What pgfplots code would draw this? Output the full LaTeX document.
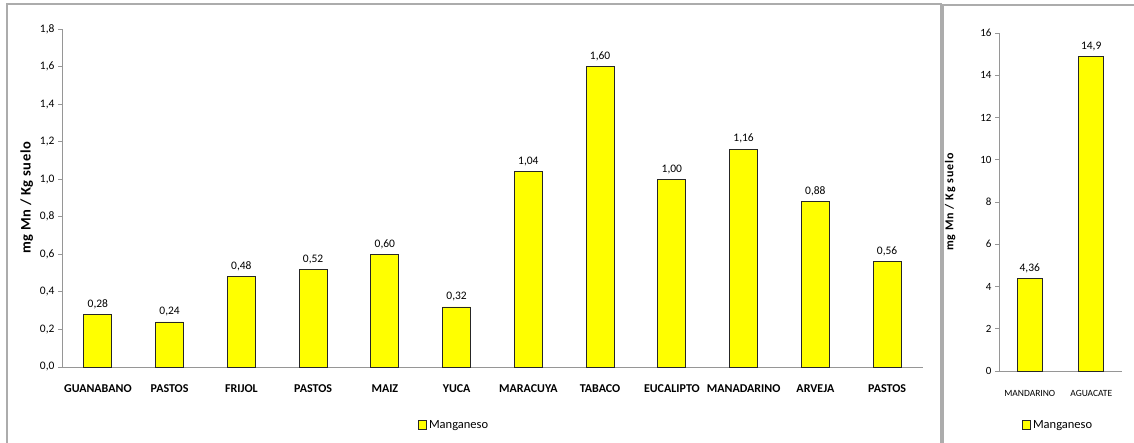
\documentclass[border=0pt]{standalone}
\usepackage{fontspec}
\setmainfont{Carlito}
\usepackage{pgfplots}
\pgfplotsset{compat=1.18}
\usepackage{pgfplotstable}
\definecolor{barY}{RGB}{255,255,0}
\definecolor{frameG}{RGB}{172,172,172}
\definecolor{axG}{RGB}{150,150,150}
\pgfplotstableread{
x v lab
0 0.28 0,28
1 0.24 0,24
2 0.48 0,48
3 0.52 0,52
4 0.60 0,60
5 0.32 0,32
6 1.04 1,04
7 1.60 1,60
8 1.00 1,00
9 1.16 1,16
10 0.88 0,88
11 0.56 0,56
}\lefttab
\pgfplotstableread{
x v lab
0 4.36 4,36
1 14.9 14,9
}\righttab
\begin{document}
\begin{tikzpicture}
\pgfplotsset{
  mybars/.style={
    scale only axis,
    axis lines*=left,
    axis line style={axG, line width=0.8pt},
    ybar, 
    ymin=0,
    tick style={axG, line width=0.8pt},
    major tick length=4pt,
    tick align=outside,
    xtick style={draw=none},
    extra x tick style={tick style={axG, line width=0.8pt}, major tick length=5pt},
    /pgf/number format/assume math mode=true,
    /pgf/number format/use comma,
    nodes near coords,
    point meta=explicit symbolic,
    every node near coord/.append style={font=\fontsize{11.5}{12}\selectfont, text=black, yshift=2pt},
    legend style={draw=none, fill=none, font=\fontsize{12.5}{13}\selectfont, legend cell align=left, inner sep=0pt},
    legend image code/.code={\draw[#1, draw=black!85, line width=0.8pt, fill=barY] (0pt,-4.5pt) rectangle (8pt,4.5pt);},
    ylabel={\bfseries mg Mn / Kg suelo},
    clip=false,
  }
}
\begin{axis}[mybars,
  at={(62pt,76pt)}, anchor=south west,
  width=861pt, height=338pt,
  xmin=-0.5, xmax=11.5,
  ymax=1.8,
  ytick={0,0.2,...,1.8},
  yticklabel style={font=\fontsize{11.5}{12}\selectfont, /pgf/number format/.cd, fixed, fixed zerofill, precision=1},
  xtick={0,...,11},
  xticklabels={GUANABANO,PASTOS,FRIJOL,PASTOS,MAIZ,YUCA,MARACUYA,TABACO,EUCALIPTO,MANADARINO,ARVEJA,PASTOS},
  xticklabel style={font=\bfseries\fontsize{12}{13}\selectfont, yshift=-10pt},
  extra x ticks={-0.5,0.5,...,11.5},
  extra x tick labels={},
  bar width=28pt,
  ylabel style={font=\addfontfeature{LetterSpace=4}\fontsize{14.5}{15}\selectfont, anchor=center, at={(axis description cs:-0.041,0.5)}},
  legend style={at={(axis description cs:0.4135,-0.1716)}, anchor=west},
]
\addplot[draw=black!85, line width=0.8pt, fill=barY] table[x=x, y=v, meta=lab] {\lefttab};
\addlegendentry{Manganeso}
\end{axis}
\begin{axis}[mybars,
  at={(999pt,72pt)}, anchor=south west,
  width=123pt, height=338pt,
  xmin=-0.5, xmax=1.5,
  ymax=16,
  ytick={0,2,...,16},
  yticklabel style={font=\fontsize{11}{12}\selectfont},
  xtick={0,1},
  xticklabels={MANDARINO,AGUACATE},
  xticklabel style={font=\fontsize{9.5}{11}\selectfont, yshift=-12pt},
  extra x ticks={-0.5,0.5,1.5},
  extra x tick labels={},
  bar width=25pt,
  ylabel style={font=\addfontfeature{LetterSpace=8}\fontsize{12}{13}\selectfont, anchor=center, at={(axis description cs:-0.398,0.5)}},
  legend style={at={(axis description cs:0.187,-0.16)}, anchor=west},
]
\addplot[draw=black!85, line width=0.8pt, fill=barY] table[x=x, y=v, meta=lab] {\righttab};
\addlegendentry{Manganeso}
\end{axis}
\draw[frameG, line width=1.4pt] (7pt,0pt) -- (7pt,439pt) -- (941pt,439pt) -- (941pt,0pt);
\draw[frameG, line width=1.4pt] (943pt,0pt) -- (943pt,438pt) -- (1134pt,438pt);
\pgfresetboundingbox
\path (0pt,0pt) rectangle (1134pt,443pt);
\end{tikzpicture}
\end{document}
